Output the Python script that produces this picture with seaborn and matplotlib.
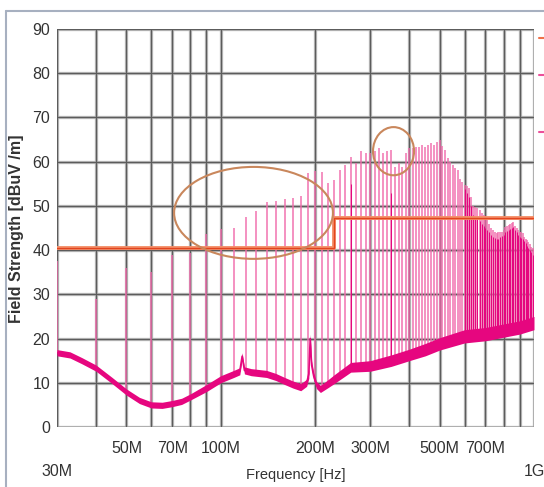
import numpy as np
import pandas as pd
import matplotlib
matplotlib.use("Agg")
import matplotlib.pyplot as plt
import seaborn as sns
from matplotlib.patches import Ellipse
from matplotlib.lines import Line2D

# ---------------- data ----------------
# harmonic spikes every 10 MHz (MHz, dBuV/m peak)
spike_freq = list(range(30, 1001, 10))
spike_level = [37.5, 29.0, 36.0, 35.0, 38.8, 39.3, 43.6, 44.7, 45.1, 47.5,
               48.8, 50.8, 51.0, 51.5, 51.7, 52.2, 57.4, 58.0, 57.7, 55.2,
               55.8, 58.1, 59.2, 61.1, 59.7, 62.3, 62.0, 62.0, 62.3, 63.0,
               62.0, 62.3, 62.6, 58.9, 59.7, 58.9, 62.0, 63.0, 63.2, 63.4,
               63.4, 63.8, 63.4, 63.8, 64.2, 63.8, 64.5, 64.9, 63.5, 62.6,
               60.8, 60.0, 59.2, 58.5, 58.1, 56.0, 55.5, 54.7, 54.5, 54.0,
               52.0, 50.0, 49.8, 49.5, 49.1, 48.5, 47.9, 47.5, 46.8, 46.0,
               45.0, 44.5, 44.2, 43.9, 44.0, 44.1, 44.1, 44.6, 45.2, 45.4,
               45.7, 45.9, 46.2, 46.4, 45.5, 45.0, 44.5, 44.2, 44.0, 43.9,
               43.0, 42.5, 42.3, 41.8, 41.3, 40.8, 40.5, 40.0]

# darker (second trace) spikes
dark_freq = [260, 350, 600, 610, 620, 630, 640, 650, 660, 670, 680, 690, 700,
             710, 720, 730, 740, 750, 760, 770, 780, 790, 800, 810, 820, 830,
             840, 850, 860, 870, 880, 890, 900, 910, 920, 930, 940, 950, 960,
             970, 980, 990, 1000]
dark_level = [55.0, 53.0, 53.8, 53.0, 52.0, 50.0, 48.0, 47.5, 47.0, 46.5,
              46.0, 45.5, 45.0, 44.5, 44.0, 43.5, 43.0, 42.8, 42.5, 42.5,
              43.0, 43.2, 43.5, 44.0, 44.3, 44.6, 44.8, 45.0, 45.2, 44.5,
              44.0, 43.5, 43.0, 42.8, 42.5, 42.0, 41.5, 41.0, 40.5, 40.0,
              39.5, 39.0, 38.5]

# noise floor (MHz, dBuV/m) and its visual spread
floor_freq = [30, 33, 36, 40, 45, 50, 55, 60, 65, 70, 75, 80, 90, 100, 110,
              115, 117, 119, 125, 140, 150, 160, 170, 180, 188, 191, 193, 195,
              198, 202, 208, 220, 230, 260, 300, 350, 400, 450, 500, 600, 700,
              800, 900, 1000]
floor_level = [16.8, 16.3, 15.0, 13.3, 10.5, 7.9, 6.0, 5.0, 4.9, 5.3, 5.8,
               6.8, 8.8, 10.8, 12.0, 12.6, 16.0, 12.8, 12.4, 12.0, 11.3, 10.4,
               9.6, 9.0, 10.0, 12.0, 20.0, 14.0, 11.5, 9.5, 8.6, 9.8, 10.8,
               13.5, 13.8, 15.0, 16.3, 17.5, 18.8, 20.5, 21.0, 21.8, 22.5, 23.5]
floor_spread = [0.7, 0.7, 0.7, 0.7, 0.7, 0.7, 0.7, 0.7, 0.7, 0.7, 0.7, 0.7,
                0.8, 0.8, 0.8, 0.8, 0.8, 0.8, 0.8, 0.8, 0.8, 0.8, 0.8, 0.8,
                0.8, 1.0, 1.0, 1.0, 0.8, 0.8, 0.8, 0.9, 1.0, 1.1, 1.2, 1.3,
                1.3, 1.4, 1.4, 1.5, 1.5, 1.5, 1.5, 1.5]

# limit line (MHz, dBuV/m)
limit_freq = [30, 230, 230, 1000]
limit_level = [40.5, 40.5, 47.3, 47.3]

x_grid = [30, 40, 50, 60, 70, 80, 90, 100, 200, 300, 400, 500, 600, 700, 800, 900, 1000]
y_grid = [0, 10, 20, 30, 40, 50, 60, 70, 80, 90]
x_major_ticks = [50, 70, 100, 200, 300, 500, 700]
x_major_labels = ["50M", "70M", "100M", "200M", "300M", "500M", "700M"]
x_minor_ticks = [30, 1000]
x_minor_labels = ["30M", "1G"]
y_ticks = [0, 10, 20, 30, 40, 50, 60, 70, 80, 90]

# ---------------- drawing ----------------
sns.set_theme(style="white")
plt.rcParams["font.family"] = ["Liberation Sans Narrow", "Liberation Sans", "DejaVu Sans"]

W, H = 544, 487
fig = plt.figure(figsize=(W / 100, H / 100), dpi=100)
ax = fig.add_axes([57 / W, 1 - 427 / H, (534 - 57) / W, (427 - 29) / H])
ax.set_xscale("log")
ax.set_xlim(30, 1000)
ax.set_ylim(0, 90)

# grid
for xg in x_grid:
    ax.axvline(xg, color="#c4c4c4", lw=2.4, zorder=1)
    ax.axvline(xg, color="#5c5c5c", lw=1.0, zorder=1.1)
for yg in y_grid:
    ax.axhline(yg, color="#c4c4c4", lw=2.4, zorder=1)
    ax.axhline(yg, color="#5c5c5c", lw=1.0, zorder=1.1)

sf = np.array(spike_freq, dtype=float)
base = np.interp(np.log10(sf), np.log10(floor_freq), floor_level)
ax.vlines(sf, base, spike_level, color="#f06aab", lw=1.3, alpha=0.8, zorder=2)
df_ = np.array(dark_freq, dtype=float)
dbase = np.interp(np.log10(df_), np.log10(floor_freq), floor_level)
ax.vlines(df_, dbase, dark_level, color="#e4077f", lw=0.75, zorder=2.2)

fl = np.array(floor_level)
fs = np.array(floor_spread)
ax.fill_between(floor_freq, fl - fs, fl + fs, color="#e6067f", lw=0, zorder=3)
floor_df = pd.DataFrame({"f": floor_freq, "v": floor_level})
sns.lineplot(data=floor_df, x="f", y="v", ax=ax, color="#e6067f", lw=1.2, zorder=3.1)

# limit line
ax.plot(limit_freq, limit_level, color="#f4906a", lw=2.8, zorder=4,
        solid_capstyle="butt")
ax.plot(limit_freq, limit_level, color="#e2441e", lw=1.0, zorder=4.1)

# annotation ellipses (axes fractions)
ax.add_patch(Ellipse((0.412, 0.538), 0.333, 0.231, transform=ax.transAxes,
                     fill=False, ec="#c9875c", lw=1.5, zorder=5))
ax.add_patch(Ellipse((0.7055, 0.693), 0.086, 0.121, transform=ax.transAxes,
                     fill=False, ec="#c9875c", lw=1.5, zorder=5))

for s in ax.spines.values():
    s.set_visible(False)

tick_color = "#333333"
ax.set_xticks(x_major_ticks)
ax.set_xticklabels(x_major_labels, fontsize=11.5, color=tick_color)
ax.set_xticks(x_minor_ticks, minor=True)
ax.set_xticklabels(x_minor_labels, minor=True, fontsize=11.5, color=tick_color)
ax.tick_params(axis="x", which="major", length=0, pad=10)
ax.tick_params(axis="x", which="minor", length=0, pad=27)
ax.set_yticks(y_ticks)
ax.set_yticklabels([str(v) for v in y_ticks], fontsize=11.5, color=tick_color)
ax.tick_params(axis="y", length=0, pad=5)

ax.set_xlabel("Frequency [Hz]", fontsize=10.5, color=tick_color)
ax.set_ylabel("Field Strength [dBuV /m]", fontsize=11.5, color=tick_color,
              fontweight="bold", family=["Liberation Sans", "DejaVu Sans"])
ax.xaxis.set_label_coords((296 - 57) / 477, -(468 - 427) / 398)
ax.yaxis.set_label_coords(-(57 - 24) / 477, (427 - 229) / 398)

# outer frame of the screenshot
fig.add_artist(Line2D([6 / W, 1], [1 - 11 / H, 1 - 11 / H], color="#a7b0c0", lw=1.5))
fig.add_artist(Line2D([6 / W, 6 / W], [0, 1 - 11 / H], color="#a7b0c0", lw=1.5))
# cut-off legend marks at right edge
for yy, cc in [(38, "#f07048"), (75, "#ec4f9a"), (132, "#ec4f9a")]:
    fig.add_artist(Line2D([539 / W, 1], [1 - yy / H, 1 - yy / H], color=cc, lw=1.5))

fig.savefig("out.png", dpi=100)
